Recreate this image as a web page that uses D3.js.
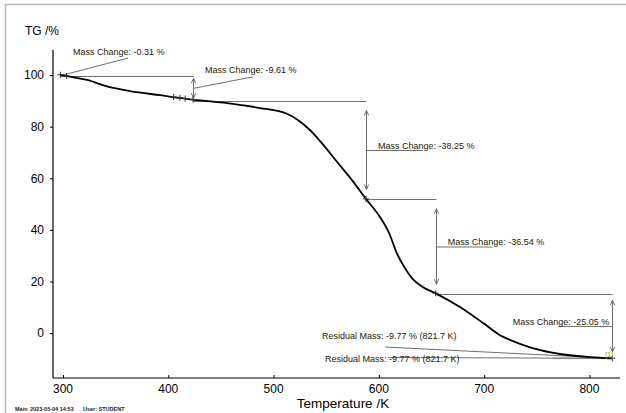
<!DOCTYPE html>
<html>
<head>
<meta charset="utf-8">
<script src="https://cdn.jsdelivr.net/npm/d3@7"></script>
<style>
  html, body { margin: 0; padding: 0; background: #fff; }
  svg { display: block; }
  text { font-family: "Liberation Sans", Arial, sans-serif; }
</style>
</head>
<body>
<svg id="chart" width="626" height="413"></svg>
<script>
// TG curve: temperature (K) vs. mass (%)
const temperature = [297.5, 303.8, 322.8, 344.6, 363.6, 392, 423.5, 461.4, 487, 512.7, 525, 535, 545, 560, 575, 587.7, 601, 610, 617, 625, 632, 642, 654, 677, 699, 715, 725, 746, 772, 800, 821.7];
const tgMass      = [100.1, 99.6, 98.1, 95.3, 93.8, 92.2, 90.5, 88.8, 87.2, 85.0, 82.0, 78.5, 74.0, 66.5, 59, 52.0, 45, 38.5, 31, 25, 21, 17.8, 15.4, 10.1, 3.9, -0.8, -2.7, -5.8, -8.1, -9.3, -9.77];

// Evaluated mass-loss steps
const stepStart = 297.5;
const stepEnds = [303.5, 423.5, 587.7, 654, 821.7];
const massChanges = [-0.31, -9.61, -38.25, -36.54, -25.05];
const residualMass = -9.77;
const residualTemp = 821.7;

// Axis ticks
const xTicks = [300, 400, 500, 600, 700, 800];
const xMinorTicks = d3.range(300, 821, 20);
const yTicks = [0, 20, 40, 60, 80, 100];
const yMinorTicks = d3.range(-10, 101, 10);

const svg = d3.select("#chart");
const x = d3.scaleLinear().domain([290.5, 829]).range([53, 620]);
const y = d3.scaleLinear().domain([-17.4, 109.7]).range([378, 50]);

// outer frame (top and left rules)
svg.append("line").attr("x1", 5).attr("x2", 626).attr("y1", 4.5).attr("y2", 4.5)
  .attr("stroke", "#b4b4b4").attr("stroke-width", 1.5);
svg.append("line").attr("x1", 5.5).attr("x2", 5.5).attr("y1", 4).attr("y2", 413)
  .attr("stroke", "#b4b4b4").attr("stroke-width", 1.5);

// y axis
const yAxisG = svg.append("g").attr("transform", "translate(53,0)");
yAxisG.call(d3.axisLeft(y).tickValues(yMinorTicks).tickSize(2).tickFormat(""));
yAxisG.call(d3.axisLeft(y).tickValues(yTicks).tickSize(3).tickPadding(6).tickFormat(d3.format("d")));
yAxisG.selectAll(".domain").remove();
yAxisG.append("line").attr("x1", 0).attr("x2", 0).attr("y1", 50).attr("y2", 378)
  .attr("stroke", "#000").attr("stroke-width", 1.2);
yAxisG.selectAll("text").attr("font-size", 12).attr("fill", "#000")
  .style("font-family", "'Liberation Sans', Arial, sans-serif");

// x axis
const xAxisG = svg.append("g").attr("transform", "translate(0,378)");
xAxisG.call(d3.axisTop(x).tickValues(xMinorTicks).tickSize(2).tickFormat(""));
xAxisG.call(d3.axisTop(x).tickValues(xTicks).tickSize(3).tickFormat(""));
xAxisG.selectAll(".domain").remove();
xAxisG.append("line").attr("x1", 53).attr("x2", 620).attr("y1", 0).attr("y2", 0)
  .attr("stroke", "#000").attr("stroke-width", 1.2);
xAxisG.selectAll(".xlab").data(xTicks).join("text").attr("class", "xlab")
  .attr("x", d => x(d)).attr("y", 15).attr("text-anchor", "middle")
  .attr("font-size", 12).attr("fill", "#000").text(d => d);

// axis titles
svg.append("text").attr("x", 25).attr("y", 35).attr("font-size", 12).text("TG /%");
svg.append("text").attr("x", 343).attr("y", 408).attr("text-anchor", "middle")
  .attr("font-size", 13.5).text("Temperature /K");

// footer
const foot = svg.append("g").attr("font-size", 5.5).attr("font-weight", "bold").attr("fill", "#222");
foot.append("text").attr("x", 15).attr("y", 410.5).text("Main");
foot.append("text").attr("x", 30).attr("y", 410.5).text("2023-05-04 14:53");
foot.append("text").attr("x", 83).attr("y", 410.5).text("User: STUDENT");

// step levels derived from the stated mass changes
const levels = [100];
massChanges.forEach(c => levels.push(+(levels[levels.length - 1] + c).toFixed(2)));

const gray = "#6e6e6e";
const ann = svg.append("g").attr("stroke", gray).attr("stroke-width", 1).attr("fill", "none");

function arrowHead(g, ax, ay, dir) {
  // open V head pointing up (dir=-1) or down (dir=1)
  g.append("path")
    .attr("d", `M${ax - 2.2},${ay - dir * 5} L${ax},${ay} L${ax + 2.2},${ay - dir * 5}`)
    .attr("stroke", gray).attr("fill", "none");
}

// horizontal level lines and vertical arrows for steps 2..5
const starts = [stepStart, stepStart, stepEnds[1], stepEnds[2], stepEnds[3]];
for (let k = 1; k < massChanges.length; k++) {
  const ax = Math.round(x(stepEnds[k])) + 0.5;
  const yTop = y(levels[k]);
  const yBot = y(levels[k + 1]);
  ann.append("line").attr("x1", x(starts[k])).attr("x2", ax)
    .attr("y1", Math.round(yTop) + 0.5).attr("y2", Math.round(yTop) + 0.5);
  const gap = (yBot - yTop) * 0.1;
  ann.append("line").attr("x1", ax).attr("x2", ax).attr("y1", yTop + gap).attr("y2", yBot - gap);
  arrowHead(ann, ax, yTop + gap, -1);
  arrowHead(ann, ax, yBot - gap, 1);
}
// last level line
ann.append("line").attr("x1", x(stepEnds[3])).attr("x2", x(stepEnds[4]))
  .attr("y1", Math.round(y(levels[4])) + 0.5).attr("y2", Math.round(y(levels[4])) + 0.5);

// residual mass guide lines
const rx = x(residualTemp), ry = y(residualMass);
ann.append("line").attr("x1", rx - 60).attr("x2", rx).attr("y1", ry).attr("y2", ry)
  .attr("stroke", "#c8c8c8").attr("stroke-width", 2);
ann.append("line").attr("x1", 385).attr("x2", rx).attr("y1", 347).attr("y2", ry);
ann.append("line").attr("x1", 388).attr("x2", rx).attr("y1", 357.5).attr("y2", ry);

// TG curve
const line = d3.line().x((d, i) => x(temperature[i])).y(d => y(d)).curve(d3.curveMonotoneX);
svg.append("path").attr("d", line(tgMass)).attr("fill", "none")
  .attr("stroke", "#000").attr("stroke-width", 1.8);

// small cross markers at evaluation points
const crossT = [stepStart, stepEnds[0], 405, 411, 416, stepEnds[1], stepEnds[2], stepEnds[3], stepEnds[4]];
const interp = t => {
  const i = d3.bisectRight(temperature, t) - 1;
  const j = Math.min(i + 1, temperature.length - 1);
  const f = j === i ? 0 : (t - temperature[i]) / (temperature[j] - temperature[i]);
  return tgMass[i] + f * (tgMass[j] - tgMass[i]);
};
svg.append("g").attr("stroke", "#333").attr("stroke-width", 1)
  .selectAll("path").data(crossT).join("path")
  .attr("d", t => { const cx = x(t), cy = y(interp(t)); return `M${cx},${cy - 3}V${cy + 3}M${cx - 3},${cy}H${cx + 3}`; });

// annotation labels
const lab = svg.append("g").attr("font-size", 9).attr("fill", "#1a1a00");
function label(tx, ty, txt, anchor) {
  lab.append("text").attr("x", tx).attr("y", ty).attr("text-anchor", anchor || "start").text(txt);
}
const fmt = v => `Mass Change: ${v.toFixed(2)} %`;

// step 1 (tiny drop at the start)
label(x(300) + 10, y(100) - 20, fmt(massChanges[0]));
ann.append("line").attr("x1", x(300)).attr("y1", y(100)).attr("x2", x(300) + 65).attr("y2", y(100) - 17);

// step 2
{
  const ax = x(stepEnds[1]), mid = (y(levels[1]) + y(levels[2])) / 2;
  label(ax + 12, y(levels[1]) - 3, fmt(massChanges[1]));
  ann.append("line").attr("x1", ax + 1).attr("y1", mid).attr("x2", ax + 60).attr("y2", y(levels[1]) + 1);
}
// steps 3 and 4
[2, 3].forEach(k => {
  const ax = x(stepEnds[k]), mid = (y(levels[k]) + y(levels[k + 1])) / 2;
  label(ax + 12, mid - 1, fmt(massChanges[k]));
  ann.append("line").attr("x1", ax).attr("y1", mid + 0.5).attr("x2", ax + 57).attr("y2", mid + 0.5);
});
// step 5
{
  const ax = x(stepEnds[4]), mid = (y(levels[4]) + y(levels[5])) / 2;
  label(ax - 3, mid - 1, fmt(massChanges[4]), "end");
  ann.append("line").attr("x1", ax).attr("y1", mid + 0.5).attr("x2", ax - 54).attr("y2", mid + 0.5);
}
// residual mass labels
const resTxt = `Residual Mass: ${residualMass.toFixed(2)} % (${residualTemp.toFixed(1)} K)`;
label(322, 339, resTxt);
label(325, 362, resTxt);
// curve tag
svg.append("text").attr("x", rx - 7).attr("y", ry - 1).attr("font-size", 7)
  .attr("fill", "#9a9a00").text("[1]");
</script>
</body>
</html>
